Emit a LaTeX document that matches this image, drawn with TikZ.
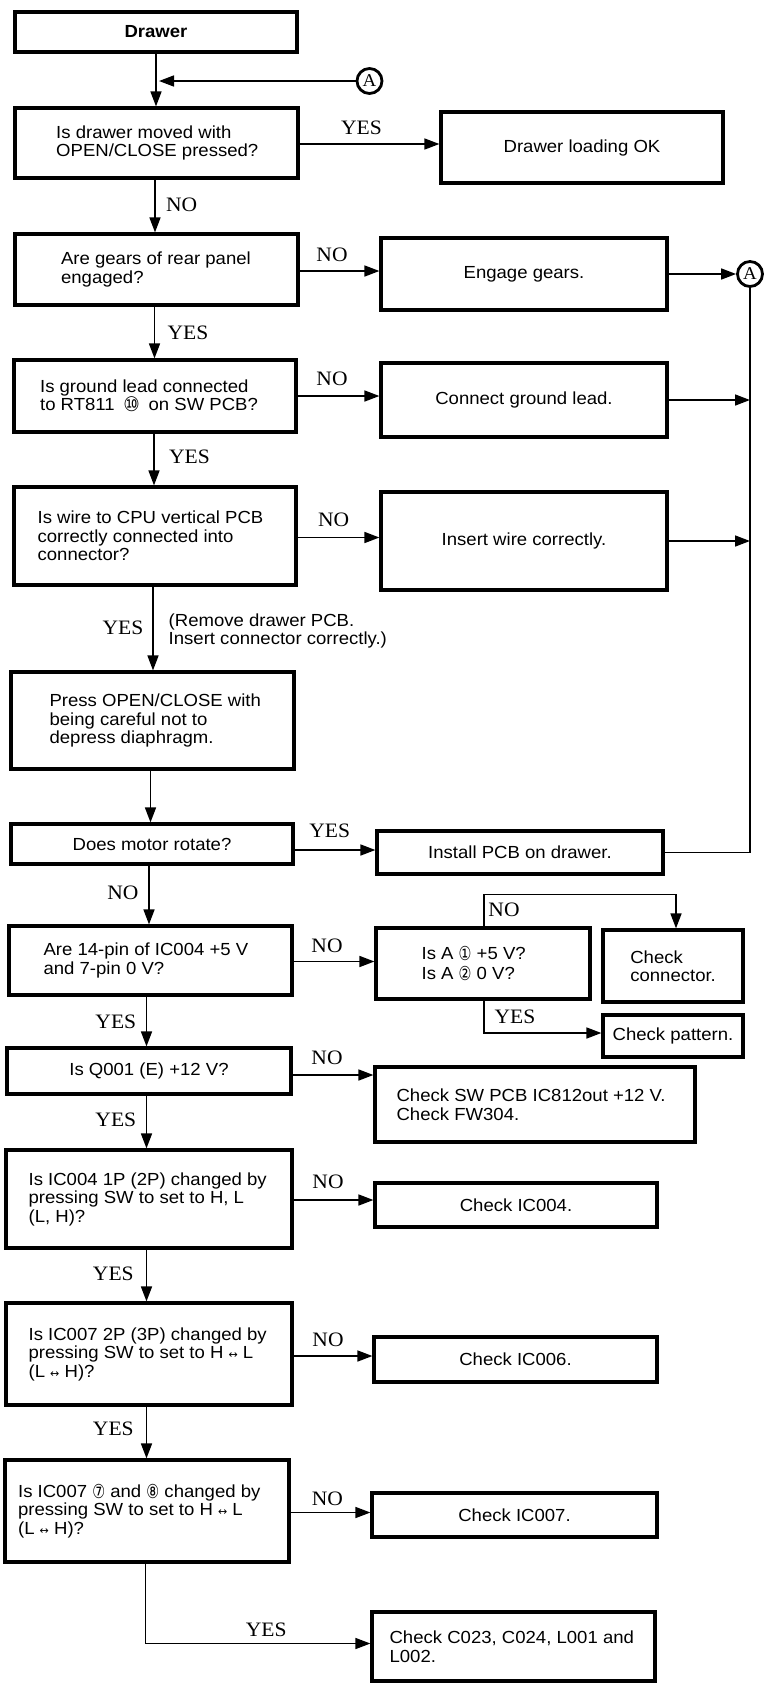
\documentclass[tikz,border=0pt]{standalone}
\usepackage{graphicx}
\usepackage{fontspec}
\setmainfont{Liberation Sans}[FakeStretch=1.06]
\newfontfamily\lblfont{Liberation Serif}[FakeStretch=1.05]
\newfontfamily\symfont{DejaVu Sans}
\usetikzlibrary{arrows.meta}

\newcommand\txtfont{\fontsize{17.5}{18.5}\selectfont}
% circled pin numbers, drawn as upright ovals
\newcommand\circnum[1]{\raisebox{-1pt}{\scalebox{0.82}[1.1]{\symfont #1}}}
\newcommand\circwide[1]{\raisebox{-1pt}{\scalebox{1.05}[1.15]{\symfont #1}}}
\newcommand\lrarrow{{\symfont\fontsize{11}{11}\selectfont ↔}}
% box given by its corners: name, x0, y0, x1, y1, text
\newcommand\flowbox[6]{\node[box, minimum width={#4-#2}, minimum height={#5-#3}] (#1) at ({(#2+#4)/2},{(#3+#5)/2}) {#6};}
% vertical arrow from the bottom of #1 to the top of #2, shifted by #3
\newcommand\vlink[3]{\path ([xshift=#3pt]#1.south) coordinate (#1-d); \draw[arr] (#1-d) -- (#1-d |- #2.north);}
% horizontal arrow from the right side of #1 to the left side of #2, shifted by #3
\newcommand\hlink[3]{\path ([yshift=#3pt]#1.east) coordinate (#1-r); \draw[arr] (#1-r) -- (#1-r -| #2.west);}

\begin{document}
\begin{tikzpicture}[x=1pt,y=-1pt,
  box/.style={draw, line width=3.2pt, inner sep=0pt, align=center, font=\txtfont},
  txt/.style={inner sep=0pt, align=left, anchor=west, font=\txtfont},
  lbl/.style={inner sep=0pt, font=\lblfont\fontsize{20.5}{22}\selectfont},
  conn/.style={line width=1.6pt},
  arr/.style={conn, -{Triangle[length=15pt,width=11pt]}},
  refmark/.style={circle, draw, line width=2.8pt, minimum size=25pt, inner sep=0pt, font=\lblfont\fontsize{18}{18}\selectfont}]

\fill[white] (0,0) rectangle (766,1684);
\useasboundingbox (0,0) rectangle (766,1684);

% main column
\flowbox{b1}{15}{12}{297}{52}{\bfseries Drawer}
\flowbox{b2}{15}{108}{298}{178}{}
\flowbox{b3}{15}{234}{298}{305}{}
\flowbox{b4}{14}{360}{296}{432}{}
\flowbox{b5}{14}{487}{296}{585}{}
\flowbox{b6}{11}{672}{294}{769}{}
\flowbox{b7}{11}{824}{293}{864}{Does motor rotate?}
\flowbox{b8}{9}{926}{292}{995}{}
\flowbox{b10}{7}{1048}{291}{1094}{Is Q001 (E) +12 V?}
\flowbox{b11}{6}{1150}{292}{1248}{}
\flowbox{b12}{6}{1303}{292}{1405}{}
\flowbox{b13}{5}{1460}{289}{1562}{}

\node[txt] (b2t) at ([xshift=42.6pt]b2.west) {Is drawer moved with\\OPEN/CLOSE pressed?};
\node[txt] (b3t) at ([xshift=47.5pt]b3.west) {Are gears of rear panel\\engaged?};
\node[txt] (b4t) at ([xshift=27.5pt]b4.west) {Is ground lead connected\\to RT811\enspace\circwide{⑩}\enspace on SW PCB?};
\node[txt] (b5t) at ([xshift=25pt]b5.west) {Is wire to CPU vertical PCB\\correctly connected into\\connector?};
\node[txt] (b6t) at ([xshift=40pt]b6.west) {Press OPEN/CLOSE with\\being careful not to\\depress diaphragm.};
\node[txt] (b8t) at ([xshift=36pt]b8.west) {Are 14-pin of IC004 +5 V\\and 7-pin 0 V?};
\node[txt] (b11t) at ([xshift=24pt]b11.west) {Is IC004 1P (2P) changed by\\pressing SW to set to H, L\\(L, H)?};
\node[txt] (b12t) at ([xshift=24pt]b12.west) {Is IC007 2P (3P) changed by\\pressing SW to set to H \lrarrow{} L\\(L \lrarrow{} H)?};
\node[txt] (b13t) at ([xshift=14.5pt]b13.west) {Is IC007 \circnum{⑦} and \circnum{⑧} changed by\\pressing SW to set to H \lrarrow{} L\\(L \lrarrow{} H)?};

% right column
\flowbox{ok}{441}{112}{723}{183}{Drawer loading OK}
\flowbox{eng}{381}{238}{667}{310}{Engage gears.}
\flowbox{cgl}{381}{363}{667}{437}{Connect ground lead.}
\flowbox{iwc}{381}{492}{667}{590}{Insert wire correctly.}
\flowbox{ipcb}{377}{831}{663}{874}{Install PCB on drawer.}
\flowbox{isA}{376}{928}{590}{999}{}
\flowbox{ccon}{603}{930}{743}{1002}{}
\flowbox{cpat}{603}{1015}{743}{1057}{Check pattern.}
\flowbox{csw}{375}{1067}{695}{1142}{}
\flowbox{c004}{375}{1183}{657}{1227}{Check IC004.}
\flowbox{c006}{374}{1337}{657}{1382}{Check IC006.}
\flowbox{c007}{372}{1493}{657}{1537}{Check IC007.}
\flowbox{cfin}{372}{1612}{655}{1681}{}

\node[txt] (isAt) at ([xshift=47pt]isA.west) {Is A \circnum{①} +5 V?\\[1pt]Is A \circnum{②} 0 V?};
\node[txt] (ccont) at ([xshift=28.7pt]ccon.west) {Check\\connector.};
\node[txt] (cswt) at ([xshift=23pt]csw.west) {Check SW PCB IC812out +12 V.\\Check FW304.};
\node[txt] (cfint) at ([xshift=19pt]cfin.west) {Check C023, C024, L001 and\\L002.};

% return markers
\node[refmark] (A1) at (369.5,81) {A};
\node[refmark] (A2) at (750,274) {A};

% vertical flow
\vlink{b1}{b2}{0}
\vlink{b2}{b3}{-1.5}
\vlink{b3}{b4}{-2}
\vlink{b4}{b5}{-1}
\vlink{b5}{b6}{-2}
\vlink{b6}{b7}{-2}
\vlink{b7}{b8}{-3}
\vlink{b8}{b10}{-4}
\vlink{b10}{b11}{-2.5}
\vlink{b11}{b12}{-2.5}
\vlink{b12}{b13}{-2.5}

% horizontal branches
\hlink{b2}{ok}{-1}
\hlink{b3}{eng}{-1.5}
\hlink{b4}{cgl}{0}
\hlink{b5}{iwc}{-1.5}
\hlink{b7}{ipcb}{-6}
\hlink{b8}{isA}{-1}
\hlink{b10}{csw}{-4}
\hlink{b11}{c004}{-1}
\hlink{b12}{c006}{-2}
\hlink{b13}{c007}{-1.5}

% return path to A
\path (b1.south |- A1.west) coordinate (j1);
\draw[arr] (A1) -- ([xshift=3pt]j1);
\draw[arr] (eng) -- (A2);
\draw[conn] (A2) |- (ipcb.east);
\draw[arr] (cgl.east) -- (cgl.east -| A2.south);
\draw[arr] (iwc.east) -- (iwc.east -| A2.south);

% branches of the A-pin check
\path ([xshift=1pt]isA.north) coordinate (na);
\path ([xshift=3pt]ccon.north) coordinate (cn);
\draw[arr] (na) |- ([yshift=34pt]cn) -- (cn);
\path ([xshift=1pt]isA.south) coordinate (sa);
\path ([yshift=3pt]cpat.west) coordinate (pw);
\draw[arr] (sa) |- (pw);

% last branch
\path ([xshift=-1.5pt]b13.south) coordinate (s13);
\path ([yshift=3pt]cfin.west) coordinate (fw);
\draw[arr] (s13) |- (fw);

% branch labels
\node[lbl] (l1) at (361.5,128) {YES};
\node[lbl] (l2) at (181.7,205) {NO};
\node[lbl] (l3) at (332,255) {NO};
\node[lbl] (l4) at (188,333) {YES};
\node[lbl] (l5) at (332,379) {NO};
\node[lbl] (l6) at (189.5,457) {YES};
\node[lbl] (l7) at (333.6,520) {NO};
\node[lbl] (l8) at (123,628) {YES};
\node[txt] (note) at (168.5,631) {(Remove drawer PCB.\\Insert connector correctly.)};
\node[lbl] (l9) at (329.7,831) {YES};
\node[lbl] (l10) at (123,893) {NO};
\node[lbl] (l11) at (327,946) {NO};
\node[lbl] (l12) at (504,910) {NO};
\node[lbl] (l13) at (515,1016.7) {YES};
\node[lbl] (l14) at (115.8,1021.7) {YES};
\node[lbl] (l15) at (327,1058.3) {NO};
\node[lbl] (l16) at (115.8,1119.3) {YES};
\node[lbl] (l17) at (328,1181.7) {NO};
\node[lbl] (l18) at (113.3,1274) {YES};
\node[lbl] (l19) at (328,1340) {NO};
\node[lbl] (l20) at (113.3,1428.3) {YES};
\node[lbl] (l21) at (327.3,1498.3) {NO};
\node[lbl] (l22) at (266.2,1629.3) {YES};

\end{tikzpicture}
\end{document}
